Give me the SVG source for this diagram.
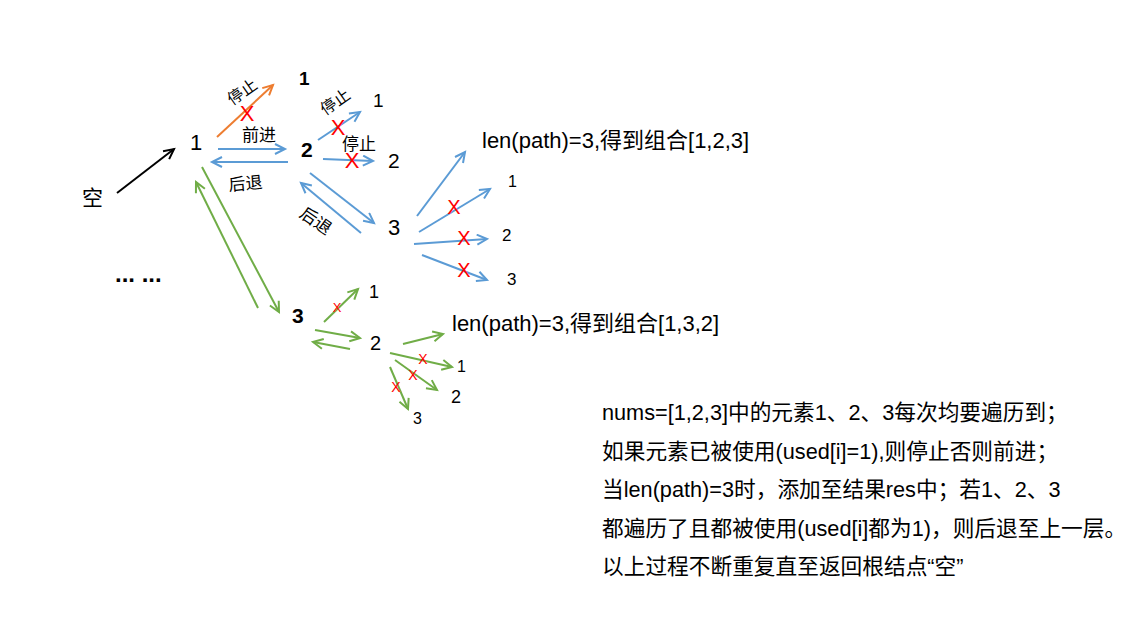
<svg xmlns="http://www.w3.org/2000/svg" width="1138" height="623" viewBox="0 0 1138 623">
<style>
text{font-family:"Liberation Sans","Noto Sans CJK SC",sans-serif;fill:#000}
.b{font-weight:bold}
.x{fill:#FF0000;text-anchor:middle}
.cb{stroke:#5B9BD5;stroke-width:2;fill:none}
.cg{stroke:#70AD47;stroke-width:2;fill:none}
.co{stroke:#ED7D31;stroke-width:2;fill:none}
.ck{stroke:#000;stroke-width:2;fill:none}
</style>
<defs>
<marker id="mb" markerUnits="userSpaceOnUse" markerWidth="14" markerHeight="14" refX="11" refY="6" orient="auto"><path d="M1,1 L11,6 L1,11" fill="none" stroke="#5B9BD5" stroke-width="2"/></marker>
<marker id="mg" markerUnits="userSpaceOnUse" markerWidth="14" markerHeight="14" refX="11" refY="6" orient="auto"><path d="M1,1 L11,6 L1,11" fill="none" stroke="#70AD47" stroke-width="2"/></marker>
<marker id="mo" markerUnits="userSpaceOnUse" markerWidth="14" markerHeight="14" refX="11" refY="6" orient="auto"><path d="M1,1 L11,6 L1,11" fill="none" stroke="#ED7D31" stroke-width="2"/></marker>
<marker id="mk" markerUnits="userSpaceOnUse" markerWidth="14" markerHeight="14" refX="11" refY="6" orient="auto"><path d="M1,1 L11,6 L1,11" fill="none" stroke="#000" stroke-width="2"/></marker>
</defs>
<rect width="1138" height="623" fill="#fff"/>
<g id="connectors">
<line class="ck" x1="117" y1="193" x2="174" y2="149" marker-end="url(#mk)"/>
<line class="co" x1="217" y1="137" x2="273" y2="85" marker-end="url(#mo)"/>
<line class="cb" x1="218" y1="149" x2="285" y2="149" marker-end="url(#mb)"/>
<line class="cb" x1="288" y1="162" x2="212" y2="162" marker-end="url(#mb)"/>
<line class="cb" x1="318" y1="140" x2="360" y2="112" marker-end="url(#mb)"/>
<line class="cb" x1="323" y1="159" x2="373" y2="161" marker-end="url(#mb)"/>
<line class="cb" x1="310" y1="173" x2="374" y2="223" marker-end="url(#mb)"/>
<line class="cb" x1="361" y1="233" x2="301" y2="183" marker-end="url(#mb)"/>
<line class="cb" x1="417" y1="216" x2="465" y2="152" marker-end="url(#mb)"/>
<line class="cb" x1="419" y1="232" x2="490" y2="189" marker-end="url(#mb)"/>
<line class="cb" x1="414" y1="244" x2="487" y2="239" marker-end="url(#mb)"/>
<line class="cb" x1="422" y1="255" x2="487" y2="280" marker-end="url(#mb)"/>
<line class="cg" x1="202" y1="167" x2="279" y2="312" marker-end="url(#mg)"/>
<line class="cg" x1="258" y1="308" x2="196" y2="182" marker-end="url(#mg)"/>
<line class="cg" x1="324" y1="322" x2="358" y2="289" marker-end="url(#mg)"/>
<line class="cg" x1="315" y1="330" x2="360" y2="338" marker-end="url(#mg)"/>
<line class="cg" x1="350" y1="349" x2="313" y2="342" marker-end="url(#mg)"/>
<line class="cg" x1="403" y1="344" x2="443" y2="334" marker-end="url(#mg)"/>
<line class="cg" x1="390" y1="353" x2="452" y2="367" marker-end="url(#mg)"/>
<line class="cg" x1="395" y1="360" x2="437" y2="390" marker-end="url(#mg)"/>
<line class="cg" x1="390" y1="367" x2="408" y2="409" marker-end="url(#mg)"/>
</g>
<g id="edge-labels">
<text font-size="16" transform="translate(243,93) rotate(-35)" text-anchor="middle" dominant-baseline="middle">停止</text>
<text font-size="17" x="242" y="141">前进</text>
<text font-size="17" transform="translate(229,191) rotate(-5)">后退</text>
<text font-size="16" transform="translate(336,103) rotate(-35)" text-anchor="middle" dominant-baseline="middle">停止</text>
<text font-size="17" x="342" y="150">停止</text>
<text font-size="17" transform="translate(315,222) rotate(35)" text-anchor="middle" dominant-baseline="middle">后退</text>
</g>
<g id="crosses">
<text class="x" font-size="22" x="247" y="121">X</text>
<text class="x" font-size="22" x="338" y="135">X</text>
<text class="x" font-size="22" x="352" y="168">X</text>
<text class="x" font-size="20" x="454" y="214">X</text>
<text class="x" font-size="20" x="464" y="245">X</text>
<text class="x" font-size="20" x="464" y="277">X</text>
<text class="x" font-size="13" x="337" y="312">X</text>
<text class="x" font-size="14" x="423" y="364">X</text>
<text class="x" font-size="14" x="413" y="380">X</text>
<text class="x" font-size="14" x="396" y="392">X</text>
</g>
<g id="node-empty"><text font-size="21" x="82" y="205">空</text></g>
<g id="node-1"><text font-size="22" x="190" y="150">1</text></g>
<g id="node-1-1"><text class="b" font-size="19" x="299" y="85">1</text></g>
<g id="node-1-2"><text class="b" font-size="21" x="301" y="157">2</text></g>
<g id="node-1-2-1"><text font-size="19" x="373" y="107">1</text></g>
<g id="node-1-2-2"><text font-size="21" x="388" y="168">2</text></g>
<g id="node-1-2-3"><text font-size="22" x="388" y="235">3</text></g>
<g id="node-123"><text font-size="22" x="482" y="148">len(path)=3,得到组合[1,2,3]</text></g>
<g id="node-1-2-3-1"><text font-size="16" x="508" y="187">1</text></g>
<g id="node-1-2-3-2"><text font-size="17" x="502" y="241">2</text></g>
<g id="node-1-2-3-3"><text font-size="17" x="507" y="285">3</text></g>
<g id="node-1-3"><text class="b" font-size="21" x="292" y="323">3</text></g>
<g id="node-1-3-1"><text font-size="18" x="369" y="298">1</text></g>
<g id="node-1-3-2"><text font-size="20" x="370" y="350">2</text></g>
<g id="node-132"><text font-size="22" x="452" y="331">len(path)=3,得到组合[1,3,2]</text></g>
<g id="node-1-3-2-1"><text font-size="16" x="457" y="372">1</text></g>
<g id="node-1-3-2-2"><text font-size="18" x="451" y="403">2</text></g>
<g id="node-1-3-2-3"><text font-size="16" x="413" y="424">3</text></g>
<g id="node-more"><text class="b" font-size="24" x="115" y="282">... ...</text></g>
<g id="note" font-size="21.7">
<text x="602" y="420">nums=[1,2,3]中的元素1、2、3每次均要遍历到；</text>
<text x="602" y="459">如果元素已被使用(used[i]=1),则停止否则前进；</text>
<text x="602" y="497">当len(path)=3时，添加至结果res中；若1、2、3</text>
<text x="602" y="536">都遍历了且都被使用(used[i]都为1)，则后退至上一层。</text>
<text x="602" y="574">以上过程不断重复直至返回根结点“空”</text>
</g>
</svg>
